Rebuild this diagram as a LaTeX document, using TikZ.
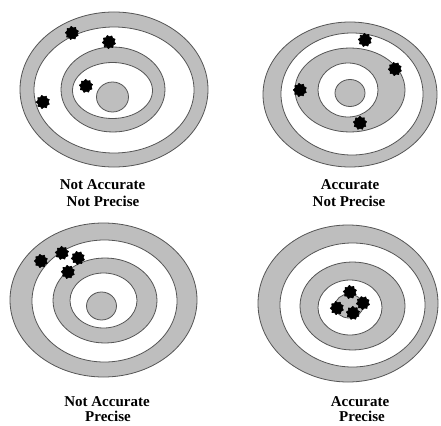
\documentclass[tikz,border=0pt]{standalone}
\usepackage{fontspec}
\setmainfont{Liberation Serif}
\usetikzlibrary{shapes.geometric}
\definecolor{ringgray}{RGB}{190,190,190}
\definecolor{edgegray}{RGB}{85,85,85}
\tikzset{
  ringfill/.style={fill=ringgray, draw=edgegray, line width=0.8pt},
  gapfill/.style={fill=white, draw=edgegray, line width=0.8pt},
  hole/.style={star, star points=9, star point ratio=1.3, minimum size=13.5pt, inner sep=0pt, fill=black, draw=black, line width=0.6pt, line join=round},
  lbl/.style={font=\fontsize{15}{17}\selectfont\bfseries, anchor=base, inner sep=0pt}
}
\begin{document}
\begin{tikzpicture}[x=1pt,y=-1pt]
\useasboundingbox (0,0) rectangle (441,425);
\clip (0,0) rectangle (441,425);
\fill[white] (0,0) rectangle (441,425);
% Target top-left
\draw[ringfill] (114,89.5) ellipse [x radius=94pt, y radius=77.5pt];
\draw[gapfill]  (114,90) ellipse [x radius=80pt, y radius=63pt];
\draw[ringfill] (113,89.5) ellipse [x radius=52pt, y radius=42.5pt];
\draw[gapfill]  (112.5,90.5) ellipse [x radius=40pt, y radius=28pt];
\draw[ringfill] (112.5,97) ellipse [x radius=16pt, y radius=15pt];
\node[hole, rotate=7] (h11) at (72,33) {};
\node[hole, rotate=15] (h12) at (109,42) {};
\node[hole, rotate=3] (h13) at (86,86) {};
\node[hole, rotate=11] (h14) at (43,102) {};
\node[lbl] (t11) at (102.5,189) {Not Accurate};
\node[lbl] (t12) at (103,206) {Not Precise};
% Target top-right
\draw[ringfill] (350,94.5) ellipse [x radius=87pt, y radius=72.5pt];
\draw[gapfill]  (352,94) ellipse [x radius=71pt, y radius=61pt];
\draw[ringfill] (350,90) ellipse [x radius=55pt, y radius=42pt];
\draw[gapfill]  (348,90) ellipse [x radius=30pt, y radius=27pt];
\draw[ringfill] (350,93) ellipse [x radius=15pt, y radius=13.5pt];
\node[hole, rotate=5] (h21) at (365,40) {};
\node[hole, rotate=13] (h22) at (395,69) {};
\node[hole, rotate=9] (h23) at (300,90) {};
\node[hole, rotate=1] (h24) at (360,123) {};
\node[lbl] (t21) at (350,189) {Accurate};
\node[lbl] (t22) at (349,206) {Not Precise};
% Target bottom-left
\draw[ringfill] (103.5,300) ellipse [x radius=93.5pt, y radius=77pt];
\draw[gapfill]  (104.5,301) ellipse [x radius=72.5pt, y radius=61pt];
\draw[ringfill] (105,300.5) ellipse [x radius=52pt, y radius=42.5pt];
\draw[gapfill]  (103.5,300.5) ellipse [x radius=33.5pt, y radius=27.5pt];
\draw[ringfill] (101.5,306) ellipse [x radius=15pt, y radius=14pt];
\node[hole, rotate=10] (h31) at (41,261) {};
\node[hole, rotate=4] (h32) at (62,253) {};
\node[hole, rotate=14] (h33) at (78,258) {};
\node[hole, rotate=8] (h34) at (68,272) {};
\node[lbl] (t31) at (107,406) {Not Accurate};
\node[lbl] (t32) at (108,421) {Precise};
% Target bottom-right
\draw[ringfill] (348,303.5) ellipse [x radius=90pt, y radius=78.5pt];
\draw[gapfill]  (352.5,305) ellipse [x radius=72.5pt, y radius=62pt];
\draw[ringfill] (352.5,306) ellipse [x radius=52.5pt, y radius=44pt];
\draw[gapfill]  (350,307.5) ellipse [x radius=32pt, y radius=27.5pt];
\draw[ringfill] (349,306) ellipse [x radius=14pt, y radius=12pt];
\node[hole, rotate=6] (h41) at (350,292) {};
\node[hole, rotate=12] (h42) at (337,308) {};
\node[hole, rotate=2] (h43) at (353,313) {};
\node[hole, rotate=16] (h44) at (363,303) {};
\node[lbl] (t41) at (360,406) {Accurate};
\node[lbl] (t42) at (362,421) {Precise};
\end{tikzpicture}
\end{document}
